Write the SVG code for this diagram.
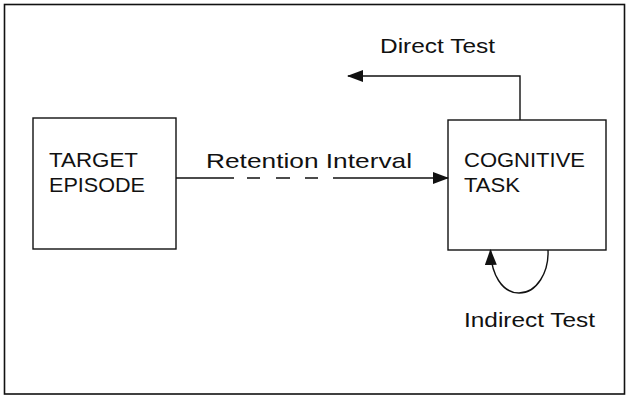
<svg xmlns="http://www.w3.org/2000/svg" width="626" height="396" viewBox="0 0 626 396">
<style>
.box{fill:#fff;stroke:#111;stroke-width:1.4}
.ln{fill:none;stroke:#111;stroke-width:1.4}
text{font-family:"Liberation Sans",Arial,sans-serif;font-size:21px;fill:#111}
</style>
<defs>
<marker id="ah" viewBox="0 0 16 12" refX="15" refY="6" markerWidth="16" markerHeight="12" markerUnits="userSpaceOnUse" orient="auto">
<path d="M0,0 L16,6 L0,12 Z" fill="#111"/>
</marker>
</defs>
<rect x="0" y="0" width="626" height="396" fill="#fff"/>
<rect x="4.5" y="4.5" width="620" height="389.5" fill="none" stroke="#111" stroke-width="1.6"/>
<g id="target">
<rect class="box" x="33" y="118" width="143" height="131"/>
<text x="49" y="167" textLength="89" lengthAdjust="spacingAndGlyphs">TARGET</text>
<text x="49" y="192" textLength="96" lengthAdjust="spacingAndGlyphs">EPISODE</text>
</g>
<g id="cognitive">
<rect class="box" x="448" y="120" width="158" height="130"/>
<text x="464" y="167" textLength="121" lengthAdjust="spacingAndGlyphs">COGNITIVE</text>
<text x="464" y="192" textLength="56" lengthAdjust="spacingAndGlyphs">TASK</text>
</g>
<g id="connectors">
<path class="ln" d="M176,178 L234,178 M247,178 L260,178 M276,178 L290,178 M305,178 L318,178"/>
<path class="ln" d="M333,178 L448,178" marker-end="url(#ah)"/>
<path class="ln" d="M520,120 L520,76 L348,76" marker-end="url(#ah)"/>
<path class="ln" d="M548,250 C549,272 537,293 519,293 C502,293 491,274 490.5,250" marker-end="url(#ah)"/>
</g>
<g id="labels">
<text x="206" y="168" textLength="206" lengthAdjust="spacingAndGlyphs">Retention Interval</text>
<text x="380" y="53" textLength="115" lengthAdjust="spacingAndGlyphs">Direct Test</text>
<text x="464" y="327" textLength="131" lengthAdjust="spacingAndGlyphs">Indirect Test</text>
</g>
</svg>
